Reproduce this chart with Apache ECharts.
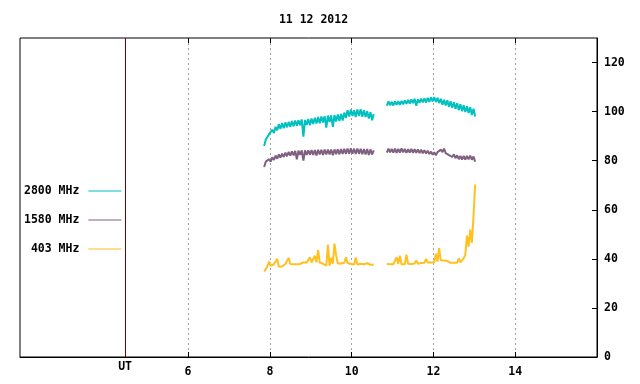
<!DOCTYPE html>
<html>
<head>
<meta charset="utf-8">
<script src="https://cdn.jsdelivr.net/npm/echarts@6/dist/echarts.min.js"></script>
<style>html,body{margin:0;padding:0;background:#fff;}#c{width:640px;height:384px;}</style>
</head>
<body>
<div id="c"></div>
<script>
// sampling grid (hours UT)
const seg1Start = 7.86, seg2Start = 10.86, step = 0.04;
const xTicks = [6, 8, 10, 12, 14];
const utPos = 4.46;
const seriesNames = ['2800 MHz', '1580 MHz', '403 MHz'];

const f2800a = [86.0,88.5,88.0,90.8,90.0,92.6,91.3,93.8,92.4,94.8,93.0,95.3,93.2,95.6,93.6,95.8,93.8,96.2,94.0,96.4,
  94.3,96.5,94.5,96.8,89.8,96.6,94.6,97.0,94.4,97.2,95.0,97.5,95.2,97.8,95.3,98.0,95.6,98.2,93.5,98.4,
  95.8,98.5,93.8,98.6,96.0,98.8,96.2,99.0,96.4,99.6,97.4,100.6,98.0,100.8,98.2,100.6,97.8,100.9,98.3,101.0,
  97.9,100.6,97.8,100.2,97.2,99.8,96.5,99.0];
const f2800b = [102.4,104.2,102.6,104.0,102.5,104.2,102.8,104.3,102.7,104.4,103.0,104.6,103.2,104.8,103.3,105.0,103.5,105.2,102.4,105.0,
  103.6,105.3,103.8,105.4,103.7,105.6,104.0,105.8,104.2,105.9,103.9,105.6,103.5,105.2,102.8,104.8,102.5,104.6,102.0,104.2,
  101.6,103.8,101.2,103.4,100.6,103.0,100.2,102.6,99.8,102.2,99.4,101.8,98.6,101.2,98.0];
const f1580a = [77.4,79.6,78.8,80.6,79.6,81.4,80.3,82.1,80.8,82.6,81.2,82.9,81.5,83.3,81.8,83.6,82.1,83.8,82.2,84.0,
  80.6,84.1,82.4,84.2,80.0,84.2,82.4,84.2,82.5,84.3,82.4,84.3,82.1,84.4,82.6,84.4,82.3,84.5,82.5,84.5,
  82.6,84.5,82.2,84.6,82.7,84.6,82.6,84.7,82.8,84.8,82.8,84.9,82.9,85.0,82.8,84.9,82.7,85.0,82.8,84.8,
  82.6,84.7,82.5,84.8,82.3,84.6,82.5,84.2];
const f1580b = [83.3,84.9,83.4,84.8,83.3,84.9,83.2,84.8,83.3,85.0,83.4,84.8,83.2,84.7,83.3,84.8,83.2,84.7,83.2,84.6,
  83.1,84.5,83.0,84.3,82.9,84.1,82.7,83.7,82.4,83.4,82.2,83.5,82.8,84.5,83.5,84.9,83.1,83.9,82.3,83.1,
  81.5,82.6,81.0,82.2,80.6,81.9,80.4,81.9,80.4,82.0,80.5,82.1,80.4,81.7,79.6];
const f403a = [34.9,35.8,37.0,38.9,37.2,37.0,37.8,37.4,40.0,36.8,36.7,36.9,37.5,37.9,38.0,40.4,37.9,38.2,37.8,37.9,
  37.8,37.9,37.9,38.3,38.6,38.6,38.4,38.6,40.6,38.5,38.6,41.3,38.6,43.7,38.5,38.4,38.0,37.3,37.2,45.8,
  37.2,40.4,38.0,46.2,41.5,38.1,38.2,38.1,38.3,38.4,40.6,38.3,38.0,37.9,37.8,37.7,40.6,37.7,37.6,38.0,
  37.6,37.8,37.6,38.2,37.6,37.6,37.9,37.6];
const f403b = [37.9,37.6,37.8,37.7,37.8,38.0,40.7,37.9,41.3,37.8,38.0,37.8,41.7,38.0,38.1,37.9,38.2,38.1,39.3,38.0,
  38.2,38.3,38.2,38.4,40.0,38.5,38.6,38.5,38.6,38.6,42.1,38.9,44.4,39.4,40.2,39.3,39.2,39.1,38.8,38.4,
  38.2,38.4,38.6,38.4,40.2,38.6,38.2,40.2,41.7,49.5,45.0,51.9,46.5,57.4,70.3];

function build(a, b) {
  const out = [];
  a.forEach((v, i) => out.push([+(seg1Start + i * step).toFixed(2), v]));
  out.push([10.7, '-']);
  b.forEach((v, i) => out.push([+(seg2Start + i * step).toFixed(2), v]));
  return out;
}

const FONT = 'DejaVu Sans Mono';
const txt = { fontFamily: FONT, fontWeight: 'bold', fontSize: 11.5, color: '#000' };
const colors = ['#00c0c0', '#806080', '#ffc020'];

const chart = echarts.init(document.getElementById('c'), null, { renderer: 'canvas' });
chart.setOption({
  animation: false,
  backgroundColor: '#fff',
  title: {
    text: '11 12 2012', left: 308.5, top: 9, textAlign: 'center',
    textStyle: Object.assign({}, txt)
  },
  legend: {
    orient: 'vertical', left: 19, top: 180, align: 'right',
    itemWidth: 33, itemHeight: 1, itemGap: 17,
    icon: 'rect',
    data: seriesNames,
    textStyle: Object.assign({}, txt, { padding: [0, 4, 0, 0] })
  },
  grid: { left: 20, right: 43, top: 38, bottom: 27, show: true, borderColor: '#000', borderWidth: 1, containLabel: false },
  xAxis: [{
    type: 'value', min: 1.89, max: 16, position: 'bottom',
    axisLine: { show: true, lineStyle: { color: '#000' } },
    axisTick: { show: true, inside: true, length: 5, customValues: xTicks, lineStyle: { color: '#000' } },
    axisLabel: { show: true, customValues: xTicks, margin: 9, ...txt },
    splitLine: { show: true, lineStyle: { color: '#a0a0a0', type: [2, 3], width: 1 } }
  }, {
    type: 'value', min: 1.89, max: 16, position: 'top',
    axisLine: { show: false },
    axisTick: { show: true, inside: true, length: 5, customValues: xTicks, lineStyle: { color: '#000' } },
    axisLabel: { show: false },
    splitLine: { show: false }
  }],
  yAxis: {
    type: 'value', min: 0, max: 130, interval: 20, position: 'right',
    axisLine: { show: true, lineStyle: { color: '#000' } },
    axisTick: { show: true, inside: true, length: 5, lineStyle: { color: '#000' } },
    axisLabel: { margin: 7, showMaxLabel: false, ...txt },
    splitLine: { show: false }
  },
  series: [{
    name: seriesNames[0], type: 'line', data: build(f2800a, f2800b), showSymbol: false, symbol: 'none',
    lineStyle: { width: 2, color: colors[0] }, itemStyle: { color: colors[0] },
    markLine: {
      silent: true, symbol: 'none', animation: false,
      lineStyle: { color: '#7a0000', type: 'solid', width: 1 },
      label: { show: true, position: 'start', formatter: 'UT', distance: 4, ...txt },
      data: [{ xAxis: utPos }]
    }
  }, {
    name: seriesNames[1], type: 'line', data: build(f1580a, f1580b), showSymbol: false, symbol: 'none',
    lineStyle: { width: 2, color: colors[1] }, itemStyle: { color: colors[1] }
  }, {
    name: seriesNames[2], type: 'line', data: build(f403a, f403b), showSymbol: false, symbol: 'none',
    lineStyle: { width: 2, color: colors[2] }, itemStyle: { color: colors[2] }
  }]
});
</script>
</body>
</html>
